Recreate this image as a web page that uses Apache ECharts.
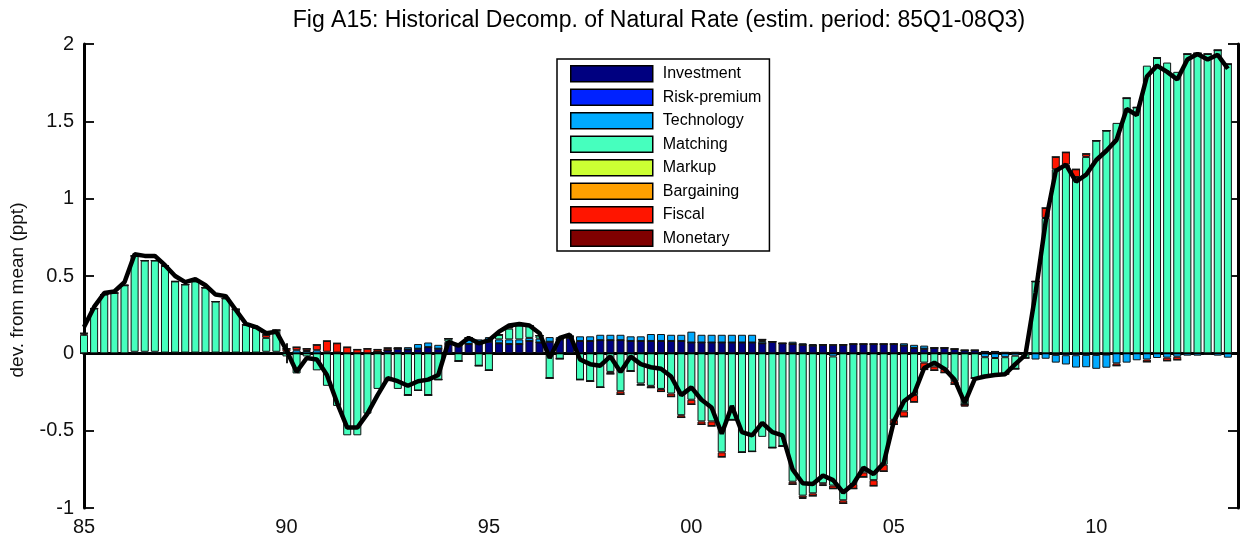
<!DOCTYPE html>
<html>
<head>
<meta charset="utf-8">
<title>Fig A15: Historical Decomp. of Natural Rate</title>
<script src="https://cdn.jsdelivr.net/npm/echarts@6/dist/echarts.min.js"></script>
<style>
  html, body { margin: 0; padding: 0; background: #fff; }
  #main { width: 1242px; height: 540px; }
</style>
</head>
<body>
<div id="main"></div>
<script>
// quarter slots 85Q1 .. 13Q3 (the axis runs one empty quarter past the data)
var quarters = [];
for (var yr = 1985; yr <= 2013; yr++) {
  for (var q = 1; q <= 4; q++) {
    if (yr === 2013 && q > 3) break;
    quarters.push(String(yr).slice(2) + 'Q' + q);
  }
}

var names = ['Investment', 'Risk-premium', 'Technology', 'Matching', 'Markup', 'Bargaining', 'Fiscal', 'Monetary'];
var colors = ['#000080', '#0022ff', '#00aaff', '#46ffbe', '#ccff33', '#ffa000', '#ff1500', '#800000'];

// natural rate, dev. from mean (ppt), 85Q1 - 13Q2
var natRate = [
  0.17, 0.30, 0.39, 0.40, 0.46, 0.64, 0.63, 0.63, 0.57, 0.50,
  0.46, 0.48, 0.44, 0.38, 0.37, 0.28, 0.19, 0.17, 0.13, 0.14,
  0.02, -0.12, -0.03, -0.04, -0.14, -0.32, -0.48, -0.48, -0.39, -0.27,
  -0.16, -0.18, -0.21, -0.18, -0.17, -0.14, 0.075, 0.05, 0.10, 0.065,
  0.085, 0.14, 0.18, 0.19, 0.18, 0.13, -0.03, 0.10, 0.12, -0.04,
  -0.07, -0.08, -0.02, -0.12, -0.02, -0.07, -0.09, -0.10, -0.15, -0.27,
  -0.22, -0.30, -0.35, -0.52, -0.34, -0.51, -0.53, -0.45, -0.51, -0.53,
  -0.75, -0.84, -0.845, -0.79, -0.82, -0.90, -0.845, -0.74, -0.78, -0.71,
  -0.44, -0.31, -0.26, -0.095, -0.06, -0.10, -0.17, -0.32, -0.165, -0.15,
  -0.14, -0.135, -0.07, -0.01, 0.39, 0.85, 1.18, 1.22, 1.11, 1.155,
  1.25, 1.31, 1.38, 1.58, 1.54, 1.79, 1.86, 1.82, 1.77, 1.90,
  1.935, 1.90, 1.93, 1.84
];

var investment = [
  0, 0, 0, 0, 0, 0, 0, 0, 0, 0,
  0, 0, 0, 0, 0, 0, 0, 0, 0, 0,
  0, 0, 0, 0, 0, 0, 0, 0, 0, 0.01,
  0.02, 0.03, 0.025, 0.03, 0.04, 0.03, 0.06, 0.05, 0.06, 0.06,
  0.075, 0.065, 0.06, 0.06, 0.08, 0.07, 0.075, 0.09, 0.10, 0.08,
  0.08, 0.085, 0.085, 0.085, 0.08, 0.08, 0.08, 0.08, 0.08, 0.08,
  0.07, 0.07, 0.07, 0.07, 0.07, 0.07, 0.07, 0.065, 0.075, 0.065,
  0.06, 0.055, 0.05, 0.055, 0.055, 0.055, 0.06, 0.06, 0.06, 0.06,
  0.06, 0.05, 0.035, 0.03, 0.035, 0.035, 0.028, 0.02, 0.02, 0.012,
  0.012, 0.006, 0.006, 0, 0, 0, 0, 0, 0, 0,
  0, 0, 0, 0, 0, 0, 0, 0, 0, 0,
  0, 0, 0, 0
];

var riskPremium = [
  0, 0, 0, 0, 0, 0, 0, 0, 0, 0,
  0, 0, 0, 0, 0, 0, 0, 0, 0, 0,
  0, 0, 0, 0, 0, 0, 0, 0, 0, 0,
  0, 0, 0, 0, 0, 0, 0, 0, 0, 0,
  0, 0, 0, 0, 0, 0, 0, 0, 0, 0,
  0, 0, 0, 0, 0, 0, 0, 0, 0, 0,
  0, 0, 0, 0, 0, 0, 0, 0, 0, 0,
  0, 0, 0, 0, 0, 0, 0, 0, 0, 0,
  0, 0, 0, 0, 0, 0, 0, 0, 0, 0,
  0, 0, 0, 0, 0, 0, -0.01, -0.012, -0.012, -0.01,
  -0.01, -0.008, 0, 0, 0, 0, 0, 0, 0, 0,
  0, 0, 0, 0
];

var technology = [
  0, 0, 0, 0, 0, 0.01, 0.01, 0.01, 0.005, 0.005,
  0.005, 0.005, 0.005, 0.005, 0.005, 0.005, 0.005, 0.005, 0.01, 0.01,
  0.01, 0.02, 0.015, 0.02, 0.01, 0.005, 0, 0, 0, 0,
  0, 0, 0.015, 0.03, 0.03, 0.025, 0.015, 0.015, 0.03, 0.03,
  0.03, 0.025, 0.03, 0.03, 0.02, 0.025, 0.03, 0.015, 0.01, 0.03,
  0.03, 0.035, 0.035, 0.035, 0.03, 0.03, 0.045, 0.045, 0.04, 0.04,
  0.07, 0.05, 0.05, 0.05, 0.05, 0.05, 0.05, 0.015, 0, 0,
  0.015, 0.01, 0.01, 0, -0.02, 0, 0, 0, 0, 0,
  0, 0.015, 0.02, 0.02, 0, 0, 0, 0, 0, -0.025,
  -0.03, -0.025, -0.015, 0, -0.04, -0.035, -0.05, -0.06, -0.08, -0.08,
  -0.09, -0.085, -0.065, -0.06, -0.045, -0.04, -0.03, -0.028, -0.022, -0.015,
  -0.015, -0.01, -0.015, -0.028
];

var matching = [
  0.12, 0.29, 0.38, 0.39, 0.44, 0.62, 0.59, 0.59, 0.56, 0.46,
  0.44, 0.46, 0.42, 0.33, 0.35, 0.28, 0.18, 0.16, 0.09, 0.14,
  -0.02, -0.13, -0.02, -0.11, -0.21, -0.34, -0.53, -0.53, -0.39, -0.23,
  -0.18, -0.23, -0.27, -0.24, -0.27, -0.17, 0.02, -0.05, 0.01, -0.08,
  -0.11, 0.03, 0.07, 0.09, 0.08, 0.02, -0.16, -0.035, 0, -0.17,
  -0.18, -0.22, -0.12, -0.245, -0.115, -0.195, -0.21, -0.23, -0.26, -0.40,
  -0.30, -0.44, -0.44, -0.64, -0.43, -0.64, -0.635, -0.54, -0.61, -0.60,
  -0.83, -0.92, -0.905, -0.84, -0.835, -0.95, -0.845, -0.77, -0.82, -0.72,
  -0.43, -0.375, -0.27, -0.06, -0.085, -0.10, -0.18, -0.33, -0.16, -0.12,
  -0.11, -0.108, -0.085, -0.03, 0.465, 0.875, 1.19, 1.22, 1.14, 1.27,
  1.375, 1.44, 1.49, 1.65, 1.59, 1.86, 1.91, 1.88, 1.82, 1.935,
  1.94, 1.935, 1.96, 1.87
];

// markup and bargaining do not show up anywhere in the figure
var markup = [];
var bargaining = [];

var fiscal = [
  0.01, 0, 0, 0, 0, 0, 0, 0, 0, 0,
  0, 0, 0, 0, 0, 0, 0, 0, 0.02, 0,
  0.02, 0.02, 0.015, 0.035, 0.07, 0.06, 0.04, 0.025, 0.03, 0.015,
  0.015, 0.005, 0, 0, 0, 0, 0, 0, 0, 0,
  0, 0, 0.01, 0, 0, 0, 0, 0, 0, 0,
  0, 0, -0.013, -0.02, 0, -0.01, -0.012, -0.017, -0.02, -0.015,
  -0.03, -0.02, -0.03, -0.03, 0, 0, 0, 0.01, 0, 0,
  -0.017, -0.015, -0.017, -0.01, -0.02, -0.02, -0.03, -0.03, -0.037, -0.043,
  -0.03, -0.035, -0.045, -0.045, -0.025, -0.025, -0.02, 0, 0, 0,
  0, 0, 0, 0, 0, 0.065, 0.08, 0.08, 0.05, 0.02,
  0, 0, -0.015, 0, 0, -0.015, 0, -0.02, -0.02, 0,
  0, 0, 0, 0
];

var monetary = [
  0, 0, 0, 0, 0, 0, 0, 0, 0, 0,
  0, 0, 0, 0, 0, 0, 0, 0, 0, 0,
  0, 0, 0, 0, 0, 0, 0, 0, 0, 0,
  0, 0, 0, 0, 0, 0, 0, 0, 0, 0,
  0, 0, 0, 0, 0, 0, 0, 0, 0, 0,
  0, 0, 0, 0, 0, 0, 0, 0, 0, 0,
  0, 0, 0, 0, 0, 0, 0, 0, 0, 0,
  0, -0.005, 0, -0.008, 0, 0, 0, 0, 0, 0,
  0, 0, 0, 0, 0, 0, 0, -0.015, 0, 0,
  0, 0, 0, 0, 0, 0, 0, 0, 0, 0,
  0, 0, 0, 0, 0, 0, 0, 0, 0, 0,
  0, 0, 0, 0
];

var components = [investment, riskPremium, technology, matching, markup, bargaining, fiscal, monetary];

var chartDom = document.getElementById('main');
var myChart = echarts.init(chartDom);
var option;

var font = '"Liberation Sans", Arial, sans-serif';
var every5y = function (index) { return index % 20 === 0; };

var series = names.map(function (name, k) {
  return {
    name: name,
    type: 'bar',
    stack: 'decomp',
    barWidth: 8,
    data: components[k],
    itemStyle: { color: colors[k], borderColor: '#111', borderWidth: 1 }
  };
});

series.push({
  name: 'Natural rate',
  type: 'line',
  data: natRate,
  symbol: 'none',
  z: 4,
  lineStyle: { color: '#000', width: 4.5 },
  markLine: {
    silent: true,
    symbol: ['none', 'none'],
    label: { show: false },
    lineStyle: { color: '#000', width: 1, type: 'solid' },
    data: [{ yAxis: 0 }]
  }
});

option = {
  animation: false,
  backgroundColor: '#fff',
  textStyle: { fontFamily: font },
  graphic: [{
    type: 'text',
    x: 659,
    y: 21,
    style: {
      text: 'Fig A15: Historical Decomp. of Natural Rate (estim. period: 85Q1-08Q3)',
      font: '23px ' + font,
      fill: '#000',
      textAlign: 'center',
      textVerticalAlign: 'middle'
    }
  }, {
    // y axis title, sits a little below the middle of the axis as in the original
    type: 'text',
    x: 18,
    y: 290,
    rotation: Math.PI / 2,
    style: {
      text: 'dev. from mean (ppt)',
      font: '19px ' + font,
      fill: '#111',
      textAlign: 'center',
      textVerticalAlign: 'middle'
    }
  }],
  legend: {
    data: names,
    orient: 'vertical',
    left: 557,
    top: 59,
    padding: [6, 8, 4, 13],
    itemWidth: 82,
    itemHeight: 16,
    itemGap: 6,
    icon: 'rect',
    backgroundColor: '#fff',
    borderColor: '#000',
    borderWidth: 1.5,
    itemStyle: { borderColor: '#000', borderWidth: 1.5 },
    textStyle: { fontSize: 16, color: '#000', padding: [0, 0, 0, 5] }
  },
  grid: { left: 84, right: 4, top: 44, bottom: 32, outerBoundsMode: 'none', containLabel: false },
  xAxis: [{
    type: 'category',
    data: quarters,
    boundaryGap: false,
    position: 'bottom',
    axisLine: { lineStyle: { color: '#000', width: 3 } },
    axisTick: { inside: true, length: 10, interval: every5y, lineStyle: { color: '#000', width: 1.8 } },
    axisLabel: { interval: every5y, color: '#111', fontSize: 20, margin: 9,
      formatter: function (v) { return v.slice(0, 2); } },
    splitLine: { show: false }
  }, {
    type: 'category',
    data: quarters,
    boundaryGap: false,
    position: 'top',
    axisLine: { lineStyle: { color: '#000', width: 3 } },
    axisTick: { inside: true, length: 10, interval: every5y, lineStyle: { color: '#000', width: 1.8 } },
    axisLabel: { show: false },
    splitLine: { show: false }
  }],
  yAxis: [{
    type: 'value',
    min: -1,
    max: 2,
    interval: 0.5,
    position: 'left',
    axisLine: { show: true, lineStyle: { color: '#000', width: 3 } },
    axisTick: { show: true, inside: true, length: 10, lineStyle: { color: '#000', width: 1.8 } },
    axisLabel: { color: '#111', fontSize: 20, margin: 10 },
    splitLine: { show: false }
  }, {
    type: 'value',
    min: -1,
    max: 2,
    interval: 0.5,
    position: 'right',
    axisLine: { show: true, lineStyle: { color: '#000', width: 3 } },
    axisTick: { show: true, inside: true, length: 10, lineStyle: { color: '#000', width: 1.8 } },
    axisLabel: { show: false },
    splitLine: { show: false }
  }],
  series: series
};

option && myChart.setOption(option);
</script>
</body>
</html>
